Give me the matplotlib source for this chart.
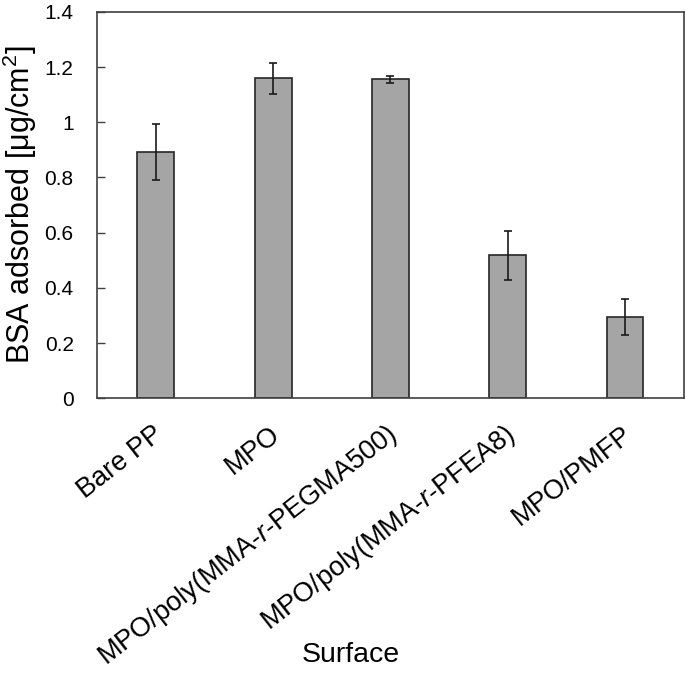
import numpy as np
import matplotlib
matplotlib.use("Agg")
import matplotlib.pyplot as plt
from matplotlib.ticker import FuncFormatter, MultipleLocator
from matplotlib.transforms import ScaledTranslation

plt.rcParams["font.family"] = ["Liberation Sans", "DejaVu Sans"]
plt.rcParams["mathtext.fontset"] = "custom"
plt.rcParams["mathtext.rm"] = "Liberation Sans"
plt.rcParams["mathtext.it"] = "Liberation Sans:italic"

# data
surfaces = ["Bare PP", "MPO", "MPO/poly(MMA-$\\it{r}$-PEGMA500)",
            "MPO/poly(MMA-$\\it{r}$-PFEA8)", "MPO/PMFP"]
bsa_mean = [0.893, 1.159, 1.155, 0.518, 0.295]
bsa_err = [0.102, 0.057, 0.013, 0.089, 0.064]

fig = plt.figure(figsize=(6.85, 6.73), dpi=100, facecolor="white")
ax = fig.add_axes([0.142, 0.408, 0.856, 0.5745])

x = np.arange(len(surfaces))
ax.bar(x, bsa_mean, width=0.315, color="#a5a5a5", edgecolor="#262626",
       linewidth=1.2, zorder=2)
ax.errorbar(x, bsa_mean, yerr=bsa_err, fmt="none", ecolor="#1a1a1a",
            elinewidth=1.2, capsize=2.9, capthick=1.2, zorder=3)

ax.set_xlim(-0.5, len(surfaces) - 0.5)
ax.set_ylim(0, 1.4)
ax.yaxis.set_major_locator(MultipleLocator(0.2))
ax.yaxis.set_major_formatter(FuncFormatter(lambda v, p: f"{v:g}"))

for s in ax.spines.values():
    s.set_color("#404040")
    s.set_linewidth(1.2)

ax.tick_params(axis="y", direction="in", length=5.5, width=1.0,
               color="#404040", labelsize=15, pad=17)
ax.tick_params(axis="x", length=0, labelsize=19.5, pad=28)

ax.set_xticks(x)
ax.set_xticklabels(surfaces, rotation=38, ha="right", va="baseline",
                   rotation_mode="anchor")
shift = ScaledTranslation(6 / 72, 0, fig.dpi_scale_trans)
for lab in ax.get_xticklabels():
    lab.set_transform(lab.get_transform() + shift)

ax.set_ylabel("BSA adsorbed [μg/cm$^2$]", fontsize=22)
ax.yaxis.set_label_coords(-0.1, 0.5)
ax.set_xlabel("Surface", fontsize=20.5)
ax.xaxis.set_label_coords(0.433, -0.631)

fig.savefig("out.png", dpi=100, facecolor=fig.get_facecolor())
